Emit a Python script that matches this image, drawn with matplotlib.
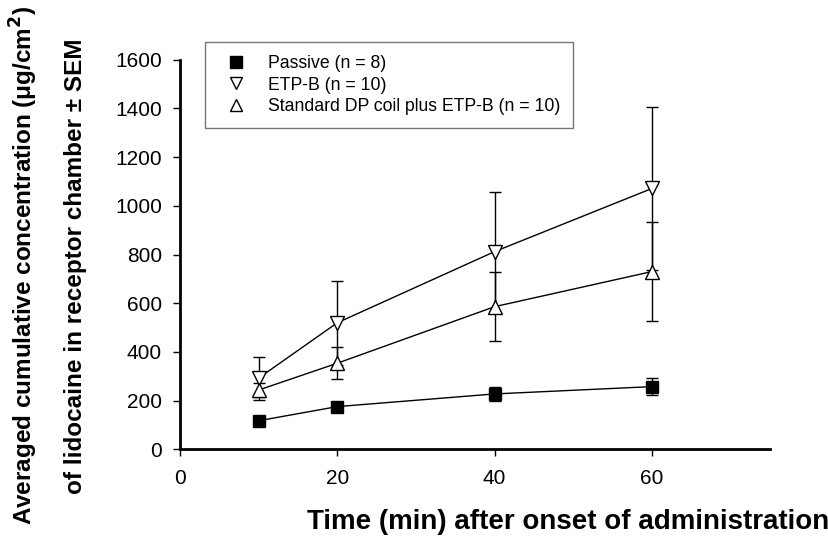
import matplotlib.pyplot as plt
from matplotlib.lines import Line2D

plt.rcParams['font.family'] = ['Liberation Sans', 'DejaVu Sans']

# time points (min)
times = [10, 20, 40, 60]

# Passive (n = 8)
passive = [118, 176, 228, 258]
passive_sem = [10, 20, 30, 35]

# ETP-B (n = 10)
etpb = [293, 520, 812, 1071]
etpb_sem = [88, 173, 246, 336]

# Standard DP coil plus ETP-B (n = 10)
dp = [244, 354, 586, 730]
dp_sem = [30, 65, 141, 203]

legend_labels = ['Passive (n = 8)', 'ETP-B (n = 10)',
                 'Standard DP coil plus ETP-B (n = 10)']

fig = plt.figure(figsize=(8.29, 5.38), dpi=100)
ax = fig.add_axes([0.2171, 0.1645, 0.7117, 0.7249])

ebkw = dict(color='black', lw=1, elinewidth=1, capsize=4.6, capthick=1,
            markeredgecolor='black', markeredgewidth=1)
ax.errorbar(times, etpb, yerr=etpb_sem, marker='v', ms=9.5,
            markerfacecolor='white', zorder=3, **ebkw)
ax.errorbar(times, dp, yerr=dp_sem, marker='^', ms=9.5,
            markerfacecolor='white', zorder=3, **ebkw)
ax.errorbar(times, passive, yerr=passive_sem, marker='s', ms=8,
            markerfacecolor='black', zorder=4, **ebkw)

ax.set_xlim(0, 75)
ax.set_ylim(0, 1600)
ax.set_xticks([0, 20, 40, 60])
ax.set_yticks(range(0, 1601, 200))
ax.tick_params(direction='out', length=5, width=1, labelsize=15)
ax.tick_params(axis='y', pad=8)
ax.tick_params(axis='x', pad=9)

for s in ['top', 'right']:
    ax.spines[s].set_visible(False)
for s in ['left', 'bottom']:
    ax.spines[s].set_linewidth(2)

ax.set_xlabel('Time (min) after onset of administration', fontsize=20,
              fontweight='bold', ha='center', va='center')
ax.xaxis.set_label_coords(0.658, -0.186)

fig.text(0.029, 0.5056, r'Averaged cumulative concentration (μg/cm$^\mathbf{2}$)',
         rotation=90, ha='center', va='center', fontsize=17.5, fontweight='bold')
fig.text(0.0905, 0.5056, 'of lidocaine in receptor chamber ± SEM',
         rotation=90, ha='center', va='center', fontsize=17.5, fontweight='bold')

handles = [
    Line2D([], [], ls='none', marker='s', ms=8, mfc='black', mec='black'),
    Line2D([], [], ls='none', marker='v', ms=9, mfc='white', mec='black'),
    Line2D([], [], ls='none', marker='^', ms=9, mfc='white', mec='black'),
]
leg = fig.legend(handles, legend_labels, loc='upper left',
                 bbox_to_anchor=(205 / 829, 1 - 42 / 538), fontsize=12.7,
                 frameon=True, fancybox=False, borderpad=0.75,
                 labelspacing=0.25, handlelength=2.0, handletextpad=0.8,
                 borderaxespad=0)
leg.get_frame().set_edgecolor('#555555')
leg.get_frame().set_linewidth(1)

fig.savefig('out.png', dpi=100)
